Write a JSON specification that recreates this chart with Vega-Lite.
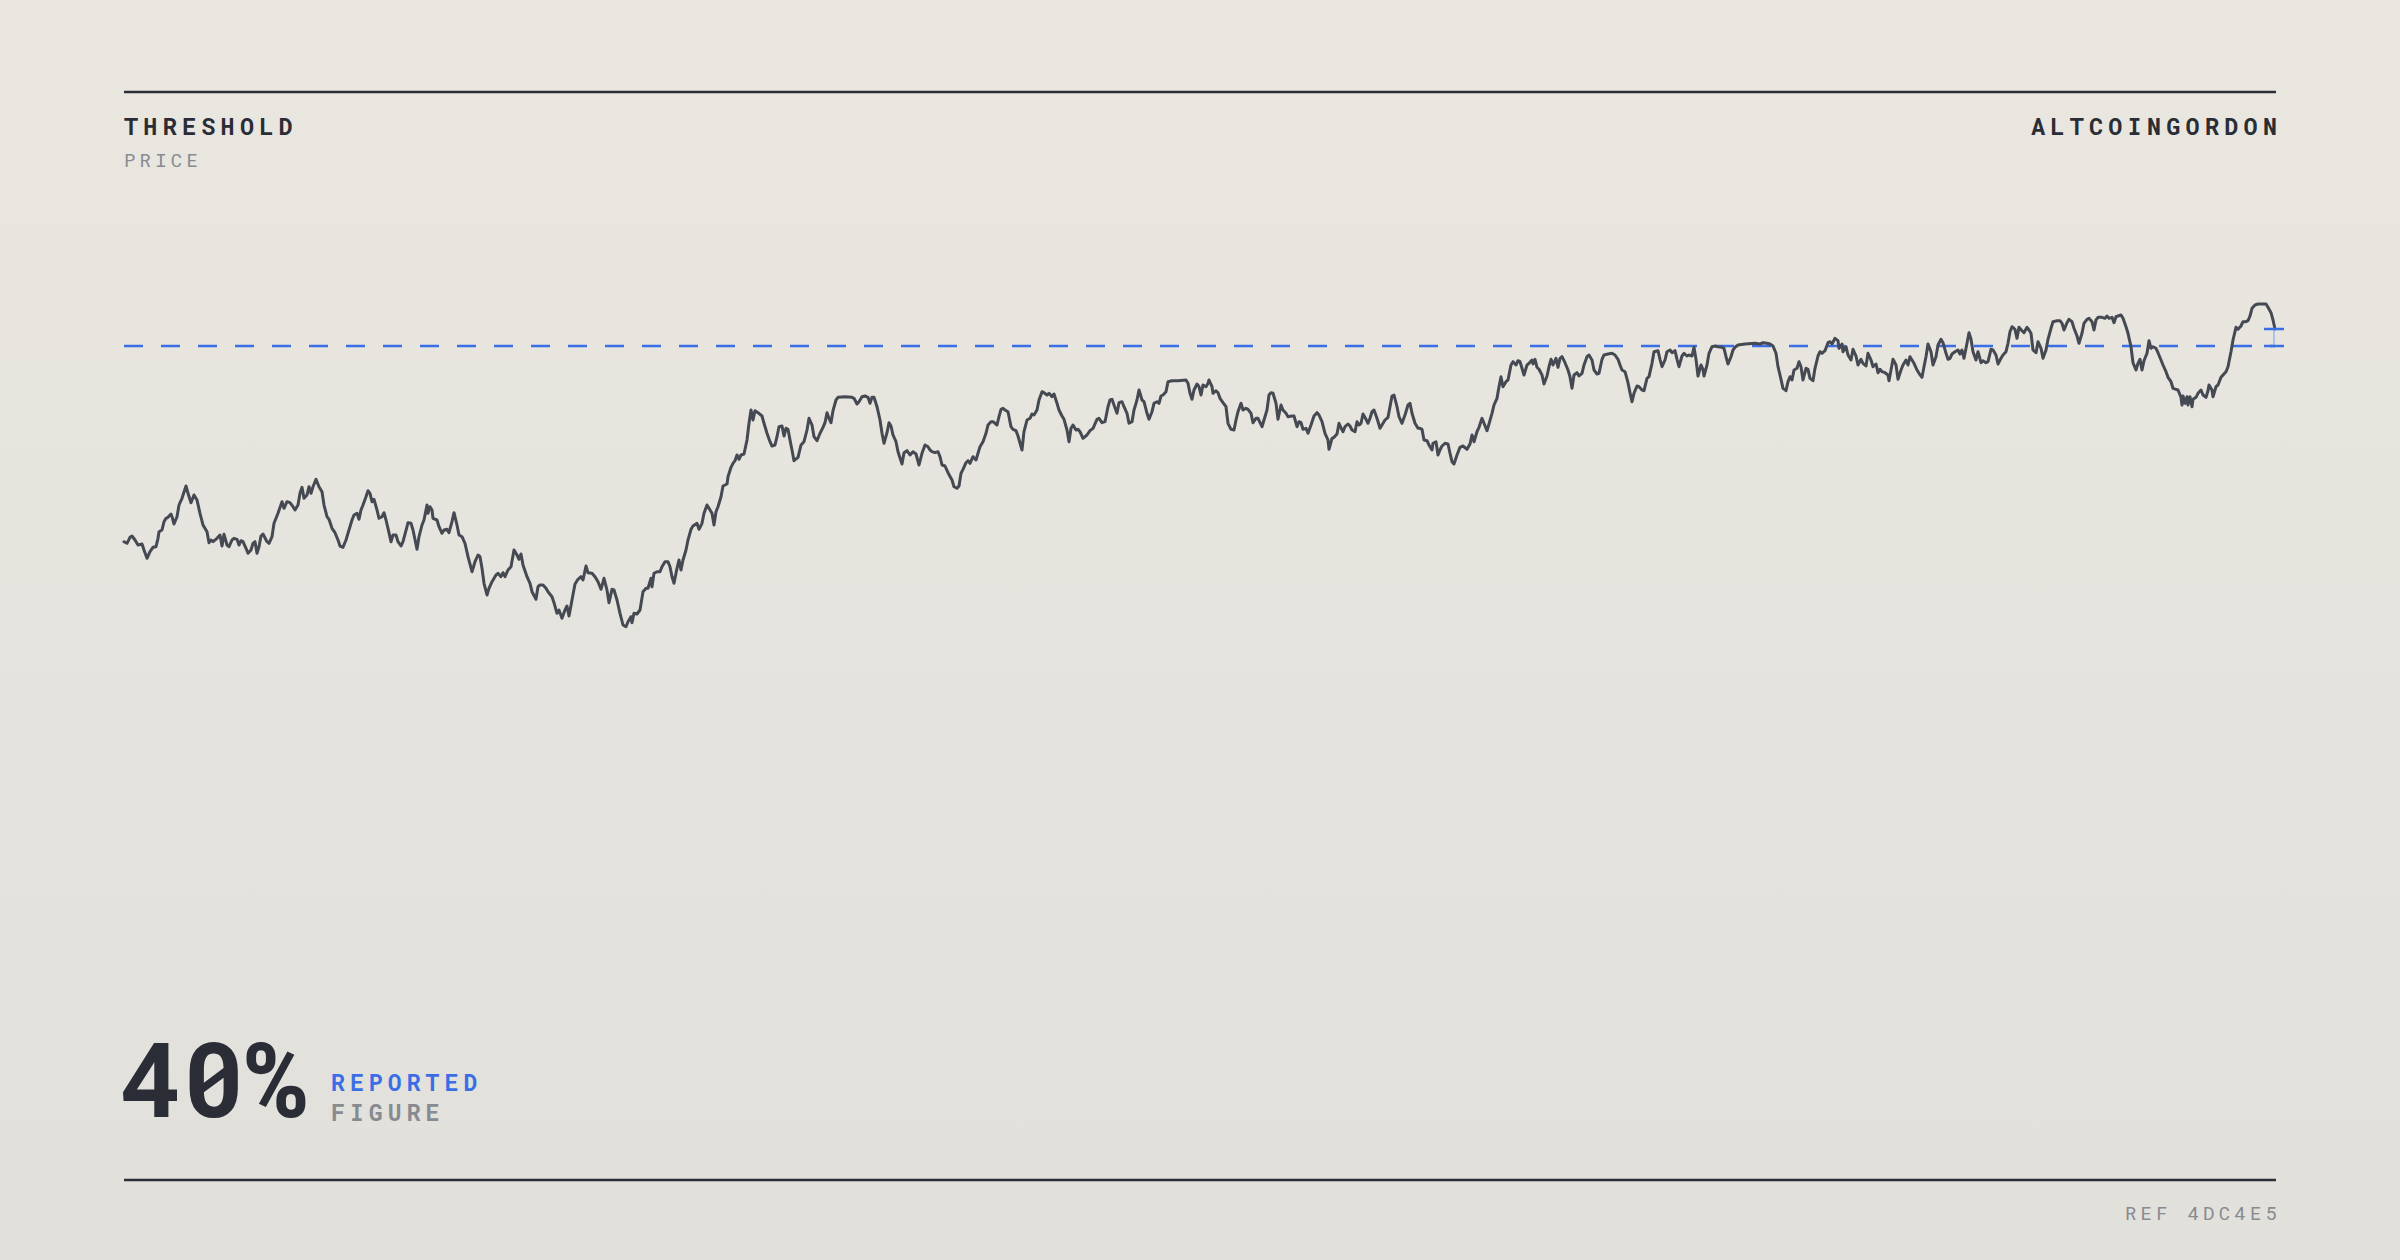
{
"$schema": "https://vega.github.io/schema/vega-lite/v6.json",
"width": 2400, "height": 1260,
"autosize": {"type": "fit", "contains": "padding"},
"padding": 0,
"background": "#e6e4de",
"config": {"view": {"stroke": null, "fill": {"gradient": "linear", "x1": 0, "y1": 0, "x2": 0, "y2": 1, "stops": [{"offset": 0, "color": "#eae7e0"}, {"offset": 1, "color": "#e1e0db"}]}}},
"data": {"values": [{"threshold": 91.4, "last": 93.1}]},
"datasets": {"price": [
{"t":0,"v":71.83},{"t":3,"v":71.67},{"t":6,"v":72.27},{"t":8,"v":72.4},{"t":11,"v":72.0},{"t":14,"v":71.5},{"t":18,"v":71.6},{"t":20,"v":71.0},{"t":23,"v":70.17},{"t":26,"v":70.83},{"t":29,"v":71.27},{"t":32,"v":71.33},{"t":34,"v":72.17},{"t":35,"v":72.83},{"t":38,"v":73.0},{"t":40,"v":73.83},{"t":42,"v":74.17},{"t":44,"v":74.27},{"t":47,"v":74.6},{"t":48,"v":74.33},{"t":50,"v":73.6},{"t":53,"v":74.33},{"t":55,"v":75.5},{"t":58,"v":76.17},{"t":62,"v":77.4},{"t":64,"v":76.67},{"t":67,"v":75.73},{"t":70,"v":76.5},{"t":73,"v":76.0},{"t":76,"v":74.67},{"t":79,"v":73.5},{"t":83,"v":72.83},{"t":85,"v":71.73},{"t":87,"v":72.0},{"t":89,"v":71.83},{"t":93,"v":72.17},{"t":96,"v":72.5},{"t":98,"v":71.4},{"t":100,"v":72.57},{"t":103,"v":71.5},{"t":105,"v":71.33},{"t":108,"v":72.0},{"t":110,"v":72.17},{"t":113,"v":72.07},{"t":115,"v":71.5},{"t":117,"v":71.93},{"t":119,"v":71.83},{"t":122,"v":71.17},{"t":124,"v":70.67},{"t":127,"v":71.0},{"t":129,"v":71.67},{"t":131,"v":71.83},{"t":133,"v":70.67},{"t":135,"v":71.33},{"t":137,"v":72.4},{"t":139,"v":72.6},{"t":143,"v":71.83},{"t":145,"v":71.67},{"t":148,"v":72.33},{"t":150,"v":73.67},{"t":154,"v":74.67},{"t":158,"v":75.83},{"t":160,"v":75.17},{"t":163,"v":75.83},{"t":166,"v":75.73},{"t":169,"v":75.33},{"t":171,"v":75.0},{"t":174,"v":75.5},{"t":176,"v":76.67},{"t":178,"v":77.27},{"t":180,"v":76.17},{"t":183,"v":76.5},{"t":185,"v":77.33},{"t":187,"v":76.67},{"t":189,"v":77.33},{"t":192,"v":78.07},{"t":195,"v":77.33},{"t":198,"v":76.83},{"t":200,"v":75.5},{"t":203,"v":74.33},{"t":205,"v":74.07},{"t":208,"v":73.17},{"t":211,"v":72.73},{"t":214,"v":72.0},{"t":216,"v":71.4},{"t":219,"v":71.27},{"t":222,"v":72.0},{"t":224,"v":72.67},{"t":228,"v":74.0},{"t":230,"v":74.5},{"t":233,"v":74.67},{"t":235,"v":74.07},{"t":237,"v":75.0},{"t":239,"v":75.5},{"t":242,"v":76.33},{"t":244,"v":76.93},{"t":246,"v":76.67},{"t":248,"v":75.83},{"t":250,"v":76.07},{"t":253,"v":75.0},{"t":255,"v":74.17},{"t":258,"v":74.33},{"t":260,"v":74.73},{"t":262,"v":74.0},{"t":264,"v":73.17},{"t":267,"v":71.83},{"t":269,"v":72.5},{"t":272,"v":72.5},{"t":274,"v":71.83},{"t":277,"v":71.4},{"t":279,"v":71.83},{"t":283,"v":73.33},{"t":284,"v":73.73},{"t":287,"v":73.67},{"t":289,"v":73.0},{"t":293,"v":71.07},{"t":295,"v":72.33},{"t":298,"v":73.5},{"t":300,"v":74.0},{"t":303,"v":75.5},{"t":304,"v":74.67},{"t":306,"v":75.33},{"t":308,"v":75.0},{"t":309,"v":74.17},{"t":313,"v":74.0},{"t":315,"v":73.33},{"t":318,"v":72.67},{"t":320,"v":73.0},{"t":323,"v":73.07},{"t":325,"v":72.73},{"t":328,"v":73.83},{"t":330,"v":74.73},{"t":333,"v":73.5},{"t":335,"v":72.5},{"t":338,"v":72.33},{"t":341,"v":71.67},{"t":344,"v":70.33},{"t":348,"v":68.83},{"t":351,"v":69.83},{"t":354,"v":70.5},{"t":356,"v":70.33},{"t":358,"v":69.17},{"t":360,"v":67.67},{"t":363,"v":66.5},{"t":365,"v":67.17},{"t":368,"v":67.83},{"t":372,"v":68.5},{"t":374,"v":68.67},{"t":377,"v":68.33},{"t":379,"v":68.73},{"t":381,"v":68.33},{"t":384,"v":69.0},{"t":387,"v":69.33},{"t":390,"v":71.0},{"t":393,"v":70.5},{"t":395,"v":70.07},{"t":397,"v":70.6},{"t":399,"v":69.5},{"t":403,"v":68.33},{"t":406,"v":67.67},{"t":408,"v":66.83},{"t":412,"v":66.07},{"t":414,"v":67.33},{"t":416,"v":67.5},{"t":419,"v":67.5},{"t":422,"v":67.17},{"t":424,"v":66.83},{"t":428,"v":66.33},{"t":430,"v":65.73},{"t":433,"v":64.67},{"t":435,"v":65.0},{"t":438,"v":64.17},{"t":441,"v":65.0},
{"t":443,"v":65.4},{"t":445,"v":64.4},{"t":448,"v":66.0},{"t":451,"v":67.6},{"t":454,"v":68.07},{"t":457,"v":68.33},{"t":459,"v":68.0},{"t":462,"v":69.4},{"t":464,"v":68.73},{"t":468,"v":68.67},{"t":471,"v":68.33},{"t":474,"v":67.83},{"t":477,"v":67.07},{"t":480,"v":68.17},{"t":483,"v":67.0},{"t":485,"v":65.73},{"t":488,"v":67.07},{"t":490,"v":67.0},{"t":493,"v":66.0},{"t":496,"v":64.67},{"t":499,"v":63.5},{"t":502,"v":63.33},{"t":504,"v":63.83},{"t":507,"v":64.33},{"t":508,"v":63.73},{"t":510,"v":64.67},{"t":513,"v":64.6},{"t":516,"v":65.0},{"t":519,"v":66.83},{"t":522,"v":67.17},{"t":524,"v":67.17},{"t":527,"v":68.17},{"t":528,"v":67.33},{"t":530,"v":68.67},{"t":533,"v":68.83},{"t":536,"v":68.83},{"t":538,"v":69.33},{"t":541,"v":69.83},{"t":544,"v":69.83},{"t":546,"v":69.33},{"t":548,"v":68.33},{"t":550,"v":67.67},{"t":553,"v":69.17},{"t":555,"v":70.0},{"t":557,"v":69.0},{"t":559,"v":70.0},{"t":562,"v":71.0},{"t":564,"v":72.0},{"t":567,"v":73.07},{"t":569,"v":73.4},{"t":573,"v":73.67},{"t":575,"v":73.07},{"t":578,"v":73.67},{"t":580,"v":74.67},{"t":583,"v":75.5},{"t":585,"v":75.17},{"t":588,"v":74.67},{"t":590,"v":73.5},{"t":592,"v":74.83},{"t":594,"v":75.33},{"t":597,"v":76.33},{"t":599,"v":77.4},{"t":603,"v":77.6},{"t":604,"v":78.33},{"t":607,"v":79.27},{"t":609,"v":79.67},{"t":611,"v":79.93},{"t":613,"v":80.5},{"t":615,"v":80.07},{"t":617,"v":80.5},{"t":620,"v":80.6},{"t":623,"v":82.0},{"t":625,"v":83.67},{"t":627,"v":85.0},{"t":629,"v":84.0},{"t":631,"v":84.93},{"t":634,"v":84.73},{"t":638,"v":84.4},{"t":640,"v":83.67},{"t":643,"v":82.67},{"t":646,"v":81.83},{"t":648,"v":81.4},{"t":651,"v":81.5},{"t":653,"v":82.33},{"t":655,"v":83.33},{"t":658,"v":83.4},{"t":660,"v":82.4},{"t":662,"v":83.17},{"t":664,"v":83.07},{"t":666,"v":82.0},{"t":668,"v":81.0},{"t":670,"v":79.93},{"t":674,"v":80.27},{"t":677,"v":81.5},{"t":680,"v":81.83},{"t":683,"v":83.0},{"t":685,"v":84.17},{"t":688,"v":83.5},{"t":690,"v":82.33},{"t":693,"v":81.93},{"t":696,"v":82.67},{"t":699,"v":83.27},{"t":701,"v":83.73},{"t":703,"v":84.73},{"t":705,"v":84.17},{"t":707,"v":83.73},{"t":709,"v":84.93},{"t":712,"v":86.0},{"t":714,"v":86.27},{"t":721,"v":86.33},{"t":728,"v":86.27},{"t":730,"v":86.17},{"t":733,"v":85.6},{"t":735,"v":85.83},{"t":738,"v":86.33},{"t":741,"v":86.4},{"t":744,"v":86.27},{"t":746,"v":85.67},{"t":748,"v":86.27},{"t":750,"v":86.27},{"t":753,"v":85.33},{"t":756,"v":84.0},{"t":758,"v":82.67},{"t":760,"v":81.67},{"t":763,"v":82.73},{"t":765,"v":83.73},{"t":767,"v":83.4},{"t":769,"v":82.5},{"t":772,"v":81.83},{"t":774,"v":80.83},{"t":778,"v":79.6},{"t":780,"v":80.73},{"t":783,"v":80.93},{"t":786,"v":80.5},{"t":789,"v":80.83},{"t":792,"v":80.6},{"t":795,"v":79.5},{"t":798,"v":80.67},{"t":801,"v":81.5},{"t":804,"v":81.33},{"t":806,"v":81.0},{"t":808,"v":80.83},{"t":811,"v":80.73},{"t":814,"v":80.83},{"t":816,"v":80.33},{"t":818,"v":79.5},{"t":821,"v":79.4},{"t":824,"v":78.73},{"t":828,"v":78.0},{"t":830,"v":77.33},{"t":833,"v":77.17},{"t":835,"v":77.4},{"t":837,"v":78.67},{"t":839,"v":79.07},{"t":842,"v":79.73},{"t":844,"v":79.93},{"t":846,"v":79.67},{"t":849,"v":80.33},{"t":852,"v":80.0},{"t":854,"v":80.67},{"t":856,"v":81.33},{"t":859,"v":81.83},{"t":862,"v":82.67},{"t":864,"v":83.5},{"t":867,"v":83.83},{"t":869,"v":83.83},{"t":873,"v":83.5},{"t":875,"v":84.33},{"t":877,"v":85.07},{"t":879,"v":85.17},{"t":881,"v":85.0},
{"t":884,"v":84.83},{"t":887,"v":83.33},{"t":889,"v":83.07},{"t":892,"v":82.93},{"t":894,"v":82.4},{"t":898,"v":81.0},{"t":900,"v":82.83},{"t":903,"v":84.0},{"t":906,"v":84.17},{"t":908,"v":84.6},{"t":910,"v":84.5},{"t":913,"v":85.0},{"t":915,"v":86.0},{"t":918,"v":86.83},{"t":920,"v":86.73},{"t":923,"v":86.5},{"t":925,"v":86.67},{"t":928,"v":86.33},{"t":930,"v":86.6},{"t":933,"v":85.67},{"t":935,"v":85.0},{"t":938,"v":84.4},{"t":940,"v":84.07},{"t":943,"v":83.0},{"t":945,"v":81.83},{"t":947,"v":83.17},{"t":949,"v":83.5},{"t":952,"v":83.0},{"t":954,"v":83.07},{"t":956,"v":82.83},{"t":959,"v":82.17},{"t":963,"v":82.5},{"t":966,"v":82.93},{"t":969,"v":83.17},{"t":973,"v":84.07},{"t":975,"v":84.17},{"t":978,"v":83.73},{"t":981,"v":83.83},{"t":984,"v":85.33},{"t":986,"v":86.0},{"t":988,"v":86.07},{"t":990,"v":85.5},{"t":993,"v":84.67},{"t":995,"v":85.73},{"t":998,"v":85.83},{"t":1000,"v":85.33},{"t":1003,"v":84.67},{"t":1005,"v":83.67},{"t":1008,"v":83.83},{"t":1010,"v":85.0},{"t":1013,"v":86.0},{"t":1015,"v":87.0},{"t":1018,"v":86.0},{"t":1020,"v":85.83},{"t":1023,"v":84.67},{"t":1025,"v":84.07},{"t":1028,"v":84.83},{"t":1030,"v":85.67},{"t":1033,"v":85.83},{"t":1035,"v":85.67},{"t":1037,"v":86.4},{"t":1039,"v":86.5},{"t":1042,"v":86.83},{"t":1044,"v":87.83},{"t":1048,"v":87.93},{"t":1054,"v":87.93},{"t":1062,"v":88.0},{"t":1064,"v":87.67},{"t":1066,"v":86.67},{"t":1068,"v":86.07},{"t":1070,"v":87.0},{"t":1073,"v":87.6},{"t":1075,"v":87.33},{"t":1077,"v":86.5},{"t":1079,"v":87.5},{"t":1082,"v":87.33},{"t":1084,"v":87.67},{"t":1085,"v":88.0},{"t":1088,"v":87.33},{"t":1089,"v":86.67},{"t":1092,"v":86.93},{"t":1094,"v":86.73},{"t":1096,"v":86.17},{"t":1099,"v":85.73},{"t":1102,"v":85.33},{"t":1104,"v":83.67},{"t":1107,"v":83.07},{"t":1110,"v":83.0},{"t":1112,"v":84.0},{"t":1114,"v":84.83},{"t":1117,"v":85.67},{"t":1119,"v":85.0},{"t":1122,"v":85.17},{"t":1124,"v":85.07},{"t":1127,"v":84.67},{"t":1129,"v":83.73},{"t":1132,"v":84.17},{"t":1134,"v":84.17},{"t":1138,"v":83.33},{"t":1140,"v":84.0},{"t":1143,"v":85.0},{"t":1145,"v":86.5},{"t":1147,"v":86.73},{"t":1149,"v":86.67},{"t":1152,"v":85.67},{"t":1154,"v":84.07},{"t":1157,"v":85.5},{"t":1159,"v":85.0},{"t":1162,"v":84.67},{"t":1164,"v":84.33},{"t":1168,"v":84.4},{"t":1170,"v":84.4},{"t":1173,"v":83.33},{"t":1175,"v":83.83},{"t":1177,"v":83.73},{"t":1179,"v":83.07},{"t":1182,"v":83.17},{"t":1184,"v":82.67},{"t":1187,"v":83.5},{"t":1190,"v":84.4},{"t":1193,"v":84.73},{"t":1195,"v":84.5},{"t":1198,"v":83.83},{"t":1201,"v":82.67},{"t":1204,"v":82.0},{"t":1205,"v":81.07},{"t":1208,"v":82.17},{"t":1210,"v":82.27},{"t":1213,"v":82.6},{"t":1215,"v":83.67},{"t":1218,"v":83.0},{"t":1219,"v":82.83},{"t":1221,"v":83.33},{"t":1224,"v":83.6},{"t":1226,"v":83.4},{"t":1228,"v":83.0},{"t":1231,"v":82.83},{"t":1233,"v":83.83},{"t":1235,"v":83.5},{"t":1237,"v":83.67},{"t":1239,"v":84.6},{"t":1242,"v":84.07},{"t":1244,"v":83.67},{"t":1246,"v":84.17},{"t":1248,"v":84.83},{"t":1250,"v":85.0},{"t":1253,"v":84.17},{"t":1256,"v":83.17},{"t":1258,"v":83.5},{"t":1261,"v":84.0},{"t":1264,"v":84.27},{"t":1266,"v":85.33},{"t":1268,"v":86.4},{"t":1270,"v":86.5},{"t":1273,"v":85.33},{"t":1275,"v":84.33},{"t":1278,"v":83.67},{"t":1281,"v":84.5},{"t":1284,"v":85.5},{"t":1286,"v":85.67},{"t":1288,"v":84.67},{"t":1291,"v":83.67},{"t":1294,"v":83.17},{"t":1296,"v":83.17},{"t":1298,"v":83.07},{"t":1300,"v":82.0},{"t":1303,"v":81.93},{"t":1305,"v":81.5},{"t":1308,"v":81.0},{"t":1309,"v":81.67},{"t":1312,"v":81.83},{"t":1314,"v":80.5},{"t":1316,"v":81.0},{"t":1318,"v":81.4},{"t":1321,"v":81.67},
{"t":1324,"v":81.6},{"t":1326,"v":80.67},{"t":1328,"v":79.83},{"t":1330,"v":79.6},{"t":1333,"v":80.5},{"t":1336,"v":81.27},{"t":1339,"v":81.4},{"t":1343,"v":81.07},{"t":1346,"v":81.6},{"t":1348,"v":82.5},{"t":1350,"v":81.83},{"t":1353,"v":82.83},{"t":1355,"v":83.27},{"t":1358,"v":84.17},{"t":1360,"v":83.67},{"t":1363,"v":82.93},{"t":1365,"v":83.6},{"t":1368,"v":84.67},{"t":1370,"v":85.5},{"t":1373,"v":86.17},{"t":1375,"v":87.33},{"t":1377,"v":88.33},{"t":1379,"v":87.33},{"t":1382,"v":87.83},{"t":1384,"v":88.0},{"t":1387,"v":89.5},{"t":1389,"v":89.83},{"t":1392,"v":89.5},{"t":1394,"v":89.93},{"t":1396,"v":89.83},{"t":1398,"v":89.17},{"t":1400,"v":88.5},{"t":1403,"v":89.5},{"t":1405,"v":89.67},{"t":1408,"v":90.0},{"t":1409,"v":89.6},{"t":1411,"v":90.07},{"t":1413,"v":89.27},{"t":1415,"v":89.07},{"t":1418,"v":88.5},{"t":1420,"v":87.6},{"t":1423,"v":88.4},{"t":1425,"v":89.33},{"t":1427,"v":90.07},{"t":1429,"v":89.5},{"t":1432,"v":90.17},{"t":1434,"v":89.27},{"t":1436,"v":90.17},{"t":1438,"v":90.33},{"t":1441,"v":89.73},{"t":1444,"v":89.0},{"t":1446,"v":88.33},{"t":1448,"v":87.17},{"t":1450,"v":88.5},{"t":1453,"v":88.73},{"t":1455,"v":88.4},{"t":1458,"v":88.67},{"t":1460,"v":89.5},{"t":1463,"v":90.33},{"t":1465,"v":90.5},{"t":1468,"v":90.0},{"t":1470,"v":89.0},{"t":1473,"v":88.6},{"t":1475,"v":88.67},{"t":1478,"v":90.07},{"t":1480,"v":90.5},{"t":1484,"v":90.6},{"t":1488,"v":90.67},{"t":1491,"v":90.5},{"t":1494,"v":90.07},{"t":1496,"v":89.5},{"t":1498,"v":89.0},{"t":1501,"v":88.83},{"t":1504,"v":87.73},{"t":1506,"v":86.73},{"t":1508,"v":85.83},{"t":1510,"v":86.67},{"t":1513,"v":87.4},{"t":1515,"v":87.33},{"t":1518,"v":87.0},{"t":1520,"v":86.93},{"t":1523,"v":88.17},{"t":1525,"v":88.33},{"t":1528,"v":89.67},{"t":1530,"v":90.83},{"t":1534,"v":90.93},{"t":1536,"v":90.07},{"t":1538,"v":89.33},{"t":1541,"v":90.0},{"t":1543,"v":90.83},{"t":1546,"v":91.0},{"t":1548,"v":90.73},{"t":1551,"v":90.93},{"t":1553,"v":90.07},{"t":1555,"v":89.33},{"t":1558,"v":90.4},{"t":1560,"v":90.67},{"t":1563,"v":90.4},{"t":1565,"v":90.5},{"t":1568,"v":90.4},{"t":1570,"v":91.27},{"t":1572,"v":90.07},{"t":1574,"v":88.4},{"t":1577,"v":89.5},{"t":1579,"v":89.07},{"t":1580,"v":88.4},{"t":1583,"v":89.5},{"t":1585,"v":90.67},{"t":1588,"v":91.33},{"t":1591,"v":91.4},{"t":1594,"v":91.33},{"t":1598,"v":91.27},{"t":1600,"v":91.17},{"t":1602,"v":90.33},{"t":1604,"v":89.6},{"t":1607,"v":90.33},{"t":1609,"v":91.0},{"t":1611,"v":91.27},{"t":1614,"v":91.5},{"t":1621,"v":91.6},{"t":1631,"v":91.67},{"t":1636,"v":91.6},{"t":1639,"v":91.73},{"t":1643,"v":91.67},{"t":1646,"v":91.6},{"t":1649,"v":91.4},{"t":1652,"v":90.67},{"t":1654,"v":89.33},{"t":1657,"v":88.07},{"t":1659,"v":87.17},{"t":1662,"v":86.93},{"t":1664,"v":87.83},{"t":1666,"v":88.33},{"t":1668,"v":88.0},{"t":1670,"v":89.0},{"t":1673,"v":89.17},{"t":1675,"v":89.83},{"t":1677,"v":89.33},{"t":1679,"v":88.0},{"t":1682,"v":89.17},{"t":1684,"v":89.07},{"t":1686,"v":88.17},{"t":1689,"v":87.93},{"t":1691,"v":89.17},{"t":1694,"v":90.4},{"t":1696,"v":90.83},{"t":1698,"v":90.67},{"t":1701,"v":90.93},{"t":1704,"v":91.73},{"t":1706,"v":91.83},{"t":1708,"v":91.6},{"t":1711,"v":92.17},{"t":1714,"v":91.93},{"t":1715,"v":91.17},{"t":1718,"v":91.6},{"t":1719,"v":90.83},{"t":1722,"v":91.33},{"t":1724,"v":90.5},{"t":1727,"v":90.0},{"t":1729,"v":91.07},{"t":1732,"v":90.4},{"t":1734,"v":89.5},{"t":1737,"v":90.07},{"t":1739,"v":89.67},{"t":1742,"v":89.4},{"t":1744,"v":90.67},{"t":1747,"v":90.0},{"t":1749,"v":89.33},{"t":1752,"v":89.6},{"t":1754,"v":88.73},{"t":1756,"v":89.07},{"t":1758,"v":88.83},{"t":1761,"v":88.73},
{"t":1764,"v":88.5},{"t":1765,"v":87.93},{"t":1767,"v":89.0},{"t":1769,"v":90.07},{"t":1772,"v":89.5},{"t":1774,"v":88.07},{"t":1777,"v":89.0},{"t":1779,"v":89.5},{"t":1782,"v":90.0},{"t":1784,"v":89.5},{"t":1786,"v":90.33},{"t":1788,"v":90.0},{"t":1790,"v":89.67},{"t":1793,"v":89.0},{"t":1795,"v":88.67},{"t":1798,"v":88.27},{"t":1800,"v":89.33},{"t":1802,"v":90.33},{"t":1804,"v":91.6},{"t":1807,"v":90.83},{"t":1809,"v":89.5},{"t":1812,"v":90.33},{"t":1814,"v":91.5},{"t":1817,"v":92.07},{"t":1819,"v":91.73},{"t":1822,"v":90.67},{"t":1824,"v":90.07},{"t":1826,"v":90.17},{"t":1828,"v":90.6},{"t":1831,"v":90.83},{"t":1834,"v":91.0},{"t":1836,"v":90.6},{"t":1838,"v":91.0},{"t":1840,"v":90.17},{"t":1843,"v":91.67},{"t":1845,"v":92.73},{"t":1847,"v":92.07},{"t":1849,"v":90.83},{"t":1852,"v":90.0},{"t":1854,"v":90.83},{"t":1857,"v":89.73},{"t":1859,"v":89.93},{"t":1862,"v":89.73},{"t":1864,"v":89.83},{"t":1867,"v":91.07},{"t":1869,"v":91.0},{"t":1872,"v":90.5},{"t":1874,"v":89.6},{"t":1877,"v":90.17},{"t":1879,"v":90.5},{"t":1882,"v":90.83},{"t":1884,"v":91.67},{"t":1886,"v":92.83},{"t":1888,"v":93.33},{"t":1891,"v":93.07},{"t":1893,"v":92.17},{"t":1895,"v":93.27},{"t":1898,"v":92.93},{"t":1900,"v":92.73},{"t":1903,"v":93.27},{"t":1905,"v":93.0},{"t":1907,"v":92.67},{"t":1909,"v":91.0},{"t":1912,"v":90.73},{"t":1914,"v":91.83},{"t":1917,"v":91.17},{"t":1919,"v":90.17},{"t":1922,"v":91.0},{"t":1924,"v":92.07},{"t":1927,"v":93.17},{"t":1929,"v":93.83},{"t":1933,"v":93.93},{"t":1936,"v":93.93},{"t":1938,"v":93.67},{"t":1940,"v":93.0},{"t":1943,"v":93.73},{"t":1945,"v":94.07},{"t":1948,"v":93.83},{"t":1950,"v":93.17},{"t":1953,"v":92.4},{"t":1955,"v":91.67},{"t":1958,"v":92.67},{"t":1960,"v":93.67},{"t":1963,"v":94.07},{"t":1965,"v":94.17},{"t":1968,"v":93.83},{"t":1970,"v":93.0},{"t":1972,"v":94.0},{"t":1974,"v":94.27},{"t":1978,"v":94.27},{"t":1981,"v":94.17},{"t":1983,"v":94.4},{"t":1985,"v":94.17},{"t":1988,"v":94.27},{"t":1990,"v":93.73},{"t":1992,"v":94.33},{"t":1994,"v":94.4},{"t":1997,"v":94.5},{"t":1999,"v":94.17},{"t":2002,"v":93.33},{"t":2004,"v":92.67},{"t":2007,"v":91.33},{"t":2009,"v":89.73},{"t":2012,"v":89.0},{"t":2014,"v":89.67},{"t":2016,"v":90.07},{"t":2018,"v":89.0},{"t":2020,"v":89.93},{"t":2023,"v":90.67},{"t":2025,"v":91.93},{"t":2027,"v":91.17},{"t":2029,"v":91.33},{"t":2032,"v":91.17},{"t":2034,"v":90.73},{"t":2037,"v":90.0},{"t":2039,"v":89.5},{"t":2042,"v":88.83},{"t":2044,"v":88.27},{"t":2047,"v":87.83},{"t":2049,"v":87.17},{"t":2052,"v":87.07},{"t":2054,"v":87.0},{"t":2057,"v":86.27},{"t":2058,"v":85.5},{"t":2059,"v":86.4},{"t":2061,"v":85.67},{"t":2063,"v":86.33},{"t":2064,"v":85.5},{"t":2066,"v":86.33},{"t":2068,"v":85.33},{"t":2069,"v":86.07},{"t":2072,"v":86.27},{"t":2074,"v":86.67},{"t":2077,"v":87.0},{"t":2079,"v":86.5},{"t":2082,"v":86.27},{"t":2084,"v":86.93},{"t":2085,"v":87.5},{"t":2088,"v":87.0},{"t":2089,"v":86.33},{"t":2092,"v":87.33},{"t":2094,"v":87.5},{"t":2097,"v":88.27},{"t":2099,"v":88.5},{"t":2102,"v":88.83},{"t":2104,"v":89.33},{"t":2107,"v":90.83},{"t":2109,"v":92.0},{"t":2112,"v":93.27},{"t":2114,"v":93.07},{"t":2117,"v":93.4},{"t":2119,"v":93.83},{"t":2122,"v":93.83},{"t":2124,"v":93.93},{"t":2126,"v":94.4},{"t":2128,"v":95.17},{"t":2131,"v":95.5},{"t":2134,"v":95.6},{"t":2139,"v":95.6},{"t":2142,"v":95.6},{"t":2144,"v":95.27},{"t":2147,"v":94.73},{"t":2149,"v":94.0},{"t":2151,"v":93.1}
]},
"layer": [
{"mark": {"type": "rule", "stroke": "#2a2d35", "strokeWidth": 2.6},
 "encoding": {"x": {"datum": 0, "type": "quantitative", "scale": {"domain": [-124, 2276], "nice": false, "zero": false}, "axis": null}, "x2": {"datum": 2152}, "y": {"datum": 116.8, "type": "quantitative", "scale": {"domain": [0, 126], "nice": false, "zero": false}, "axis": null}}},
{"mark": {"type": "rule", "stroke": "#2a2d35", "strokeWidth": 2.6},
 "encoding": {"x": {"datum": 0, "type": "quantitative", "scale": {"domain": [-124, 2276], "nice": false, "zero": false}, "axis": null}, "x2": {"datum": 2152}, "y": {"datum": 8.0, "type": "quantitative", "scale": {"domain": [0, 126], "nice": false, "zero": false}, "axis": null}}},
{"mark": {"type": "rule", "stroke": "#3a6ee6", "strokeWidth": 2.5, "strokeDash": [19, 18]},
 "encoding": {"x": {"datum": 0, "type": "quantitative", "scale": {"domain": [-124, 2276], "nice": false, "zero": false}, "axis": null}, "x2": {"datum": 2151}, "y": {"field": "threshold", "type": "quantitative", "scale": {"domain": [0, 126], "nice": false, "zero": false}, "axis": null}}},
{"data": {"name": "price"},
 "mark": {"type": "line", "stroke": "#454952", "strokeWidth": 3, "strokeJoin": "round", "strokeCap": "round"},
 "encoding": {"x": {"field": "t", "type": "quantitative", "scale": {"domain": [-124, 2276], "nice": false, "zero": false}, "axis": null}, "y": {"field": "v", "type": "quantitative", "scale": {"domain": [0, 126], "nice": false, "zero": false}, "axis": null}}},
{"mark": {"type": "rule", "stroke": "#9bb3ee", "strokeWidth": 1.5},
 "encoding": {"x": {"datum": 2150, "type": "quantitative", "scale": {"domain": [-124, 2276], "nice": false, "zero": false}, "axis": null}, "y": {"field": "threshold", "type": "quantitative", "scale": {"domain": [0, 126], "nice": false, "zero": false}, "axis": null}, "y2": {"field": "last"}}},
{"mark": {"type": "rule", "stroke": "#3a6ee6", "strokeWidth": 2.5},
 "encoding": {"x": {"datum": 2140, "type": "quantitative", "scale": {"domain": [-124, 2276], "nice": false, "zero": false}, "axis": null}, "x2": {"datum": 2160}, "y": {"field": "last", "type": "quantitative", "scale": {"domain": [0, 126], "nice": false, "zero": false}, "axis": null}}},
{"mark": {"type": "rule", "stroke": "#3a6ee6", "strokeWidth": 2.5},
 "encoding": {"x": {"datum": 2140, "type": "quantitative", "scale": {"domain": [-124, 2276], "nice": false, "zero": false}, "axis": null}, "x2": {"datum": 2160}, "y": {"field": "threshold", "type": "quantitative", "scale": {"domain": [0, 126], "nice": false, "zero": false}, "axis": null}}},
{"mark": {"type": "text", "text": "T\u205FH\u205FR\u205FE\u205FS\u205FH\u205FO\u205FL\u205FD", "font": "Roboto Mono, DejaVu Sans", "fontSize": 23.5, "fontWeight": "bold", "fill": "#2a2d35", "align": "left", "baseline": "alphabetic"},
 "encoding": {"x": {"datum": 0, "type": "quantitative", "scale": {"domain": [-124, 2276], "nice": false, "zero": false}, "axis": null}, "y": {"datum": 112.5, "type": "quantitative", "scale": {"domain": [0, 126], "nice": false, "zero": false}, "axis": null}}},
{"mark": {"type": "text", "text": "P\u205FR\u205FI\u205FC\u205FE", "font": "Roboto Mono, DejaVu Sans", "fontSize": 19, "fill": "#878a91", "align": "left", "baseline": "alphabetic"},
 "encoding": {"x": {"datum": 0, "type": "quantitative", "scale": {"domain": [-124, 2276], "nice": false, "zero": false}, "axis": null}, "y": {"datum": 109.27, "type": "quantitative", "scale": {"domain": [0, 126], "nice": false, "zero": false}, "axis": null}}},
{"mark": {"type": "text", "text": "A\u205FL\u205FT\u205FC\u205FO\u205FI\u205FN\u205FG\u205FO\u205FR\u205FD\u205FO\u205FN", "font": "Roboto Mono, DejaVu Sans", "fontSize": 23.5, "fontWeight": "bold", "fill": "#2a2d35", "align": "right", "baseline": "alphabetic"},
 "encoding": {"x": {"datum": 2153, "type": "quantitative", "scale": {"domain": [-124, 2276], "nice": false, "zero": false}, "axis": null}, "y": {"datum": 112.5, "type": "quantitative", "scale": {"domain": [0, 126], "nice": false, "zero": false}, "axis": null}}},
{"mark": {"type": "text", "text": "40%", "font": "Roboto Mono, DejaVu Sans Mono", "fontSize": 104, "fontWeight": "bold", "fill": "#2a2d35", "align": "left", "baseline": "alphabetic"},
 "encoding": {"x": {"datum": -4, "type": "quantitative", "scale": {"domain": [-124, 2276], "nice": false, "zero": false}, "axis": null}, "y": {"datum": 14.3, "type": "quantitative", "scale": {"domain": [0, 126], "nice": false, "zero": false}, "axis": null}}},
{"mark": {"type": "text", "text": "R\u205FE\u205FP\u205FO\u205FR\u205FT\u205FE\u205FD", "font": "Roboto Mono, DejaVu Sans", "fontSize": 23, "fontWeight": "bold", "fill": "#3a6ee6", "align": "left", "baseline": "alphabetic"},
 "encoding": {"x": {"datum": 207, "type": "quantitative", "scale": {"domain": [-124, 2276], "nice": false, "zero": false}, "axis": null}, "y": {"datum": 16.95, "type": "quantitative", "scale": {"domain": [0, 126], "nice": false, "zero": false}, "axis": null}}},
{"mark": {"type": "text", "text": "F\u205FI\u205FG\u205FU\u205FR\u205FE", "font": "Roboto Mono, DejaVu Sans", "fontSize": 23, "fontWeight": "bold", "fill": "#878a91", "align": "left", "baseline": "alphabetic"},
 "encoding": {"x": {"datum": 207, "type": "quantitative", "scale": {"domain": [-124, 2276], "nice": false, "zero": false}, "axis": null}, "y": {"datum": 13.95, "type": "quantitative", "scale": {"domain": [0, 126], "nice": false, "zero": false}, "axis": null}}},
{"mark": {"type": "text", "text": "R\u205FE\u205FF\u205F \u205F4\u205FD\u205FC\u205F4\u205FE\u205F5", "font": "Roboto Mono, DejaVu Sans", "fontSize": 19, "fill": "#878a91", "align": "right", "baseline": "alphabetic"},
 "encoding": {"x": {"datum": 2153, "type": "quantitative", "scale": {"domain": [-124, 2276], "nice": false, "zero": false}, "axis": null}, "y": {"datum": 4.0, "type": "quantitative", "scale": {"domain": [0, 126], "nice": false, "zero": false}, "axis": null}}}
]
}
